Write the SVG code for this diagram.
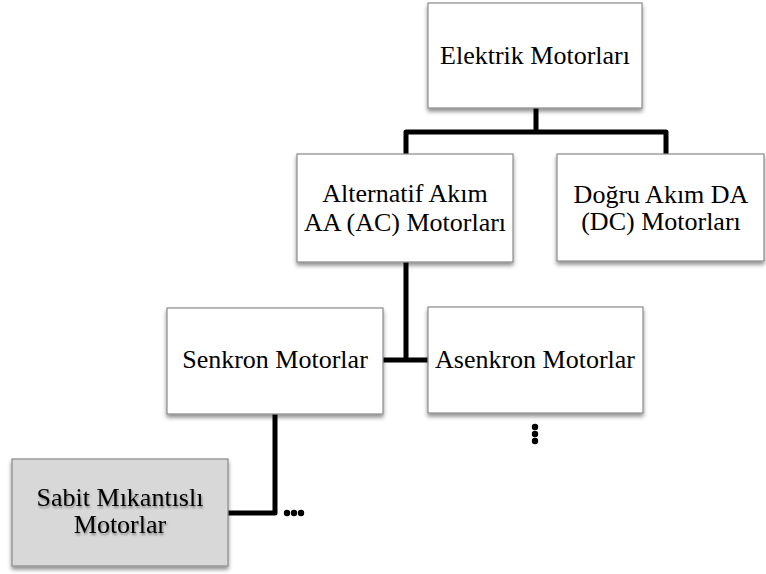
<svg xmlns="http://www.w3.org/2000/svg" width="766" height="574" viewBox="0 0 766 574">
  <defs>
    <filter id="shadow" x="-10%" y="-10%" width="125%" height="130%">
      <feGaussianBlur in="SourceAlpha" stdDeviation="2"/>
      <feOffset dx="0" dy="3"/>
      <feComponentTransfer><feFuncA type="linear" slope="0.45"/></feComponentTransfer>
      <feMerge><feMergeNode/><feMergeNode in="SourceGraphic"/></feMerge>
    </filter>
    <filter id="textShadow" x="-10%" y="-20%" width="120%" height="150%">
      <feGaussianBlur in="SourceAlpha" stdDeviation="1.2"/>
      <feOffset dx="1" dy="2"/>
      <feComponentTransfer><feFuncA type="linear" slope="0.4"/></feComponentTransfer>
      <feMerge><feMergeNode/><feMergeNode in="SourceGraphic"/></feMerge>
    </filter>
  </defs>
  <style>
    .box { fill: #ffffff; stroke: #8a8a8a; stroke-width: 1.2; filter: url(#shadow); }
    .box.grey { fill: #d8d8d8; }
    .lbl { font-family: 'Liberation Serif', 'Times New Roman', serif; font-size: 26px; fill: #000; text-anchor: middle; }
    .conn { fill: none; stroke: #000; stroke-width: 5; stroke-linejoin: round; }
    .dot { fill: #000; }
  </style>
  <rect width="766" height="574" fill="#ffffff"/>

  <g id="connectors">
    <path class="conn" d="M536,108 V132 M406,156 V132 H666 V156"/>
    <path class="conn" d="M406,262 V360 M383,360 H428"/>
    <path class="conn" d="M275,414 V513 H228"/>
    <circle class="dot" cx="535" cy="427" r="3.2"/>
    <circle class="dot" cx="535" cy="434" r="3.2"/>
    <circle class="dot" cx="535" cy="441" r="3.2"/>
    <circle class="dot" cx="287" cy="513" r="3.2"/>
    <circle class="dot" cx="294" cy="513" r="3.2"/>
    <circle class="dot" cx="301" cy="513" r="3.2"/>
  </g>

  <g id="elektrik-motorlari">
    <rect class="box" x="428" y="3" width="214" height="105"/>
    <text class="lbl" x="535" y="64">Elektrik Motorları</text>
  </g>

  <g id="ac-motorlari">
    <rect class="box" x="297" y="154" width="216" height="108"/>
    <text class="lbl" x="405" y="202">Alternatif Akım</text>
    <text class="lbl" x="405" y="231">AA (AC) Motorları</text>
  </g>

  <g id="dc-motorlari">
    <rect class="box" x="557" y="154" width="207" height="107"/>
    <text class="lbl" x="661" y="203">Doğru Akım DA</text>
    <text class="lbl" x="661" y="230">(DC) Motorları</text>
  </g>

  <g id="senkron-motorlar">
    <rect class="box" x="167" y="308" width="216" height="106"/>
    <text class="lbl" x="275" y="368">Senkron Motorlar</text>
  </g>

  <g id="asenkron-motorlar">
    <rect class="box" x="428" y="307" width="215" height="106"/>
    <text class="lbl" x="535" y="368">Asenkron Motorlar</text>
  </g>

  <g id="sabit-mikantisli-motorlar">
    <rect class="box grey" x="12" y="459" width="216" height="107"/>
    <g filter="url(#textShadow)">
      <text class="lbl" x="120" y="506">Sabit Mıkantıslı</text>
      <text class="lbl" x="120" y="533">Motorlar</text>
    </g>
  </g>
</svg>
